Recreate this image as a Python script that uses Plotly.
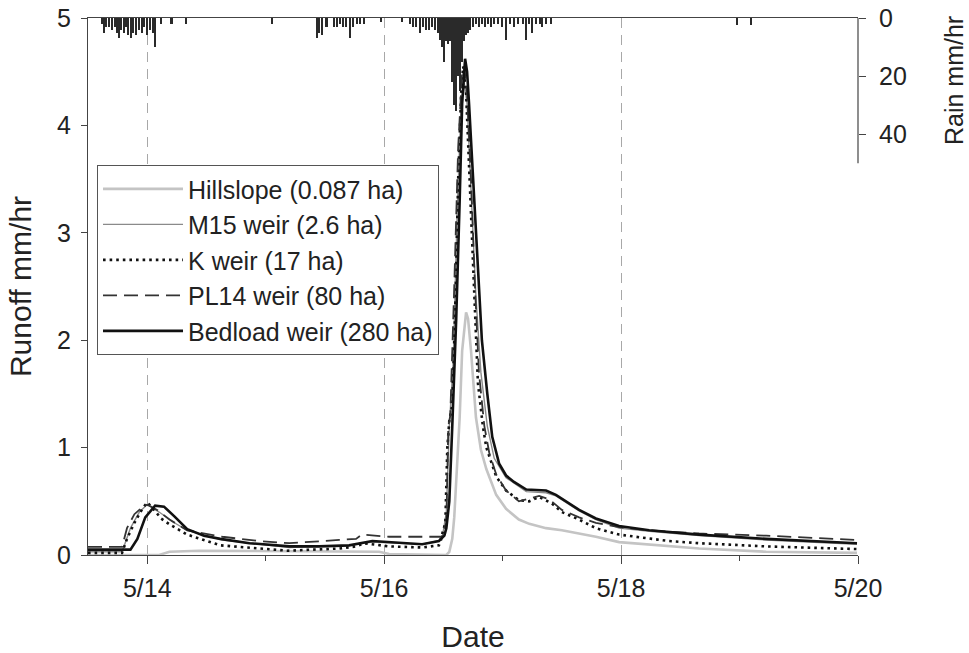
import pandas as pd
import plotly.graph_objects as go

# ---------------- data (time in hours since 5/13 00:00) ----------------
BASE = pd.Timestamp("2008-05-13")

hill_h = [12, 26.4, 28.5, 34.5, 54.8, 71, 73, 84.6, 85.2, 85.8, 86.2, 86.8, 87.3, 87.8,
          88.6, 89.0, 89.6, 90.6, 91.6, 92.7, 94.7, 96.7, 99.3, 101.4, 104.8, 108,
          111.5, 114.9, 119.6, 125.7, 135.8, 149.4, 167.8]
hill_v = [0.0, 0.0, 0.03, 0.04, 0.035, 0.03, 0.01, 0.0, 0.03, 0.15, 0.35, 0.9, 1.28, 1.9,
          2.26, 2.2, 1.9, 1.28, 0.98, 0.8, 0.56, 0.43, 0.33, 0.29, 0.25, 0.23,
          0.2, 0.17, 0.12, 0.1, 0.06, 0.03, 0.02]

m15_h = [12, 18.9, 20.6, 22.4, 24.0, 26.4, 29.5, 32.1, 39.2, 52.8, 64.9, 69.6, 79.7, 83.7,
         84.6, 85.2, 86.0, 86.8, 87.6, 88.2, 88.8, 89.6, 90.6, 91.6, 92.9, 94.3, 96.7,
         100.8, 104.8, 106.8, 111.5, 114.9, 119.6, 125.7, 135.8, 149.4, 167.8]
m15_v = [0.03, 0.03, 0.25, 0.4, 0.47, 0.4, 0.3, 0.23, 0.14, 0.07, 0.09, 0.12, 0.1, 0.14,
         0.4, 1.2, 1.8, 3.2, 4.2, 4.4, 4.2, 3.4, 2.4, 1.7, 1.2, 0.9, 0.72,
         0.59, 0.58, 0.55, 0.41, 0.33, 0.25, 0.22, 0.18, 0.14, 0.1]

k_h = [12, 18.9, 19.9, 21.4, 23.0, 24.0, 25.4, 26.8, 28.7, 32.1, 38.8, 52.4, 62.9, 66.3,
       67.9, 73.0, 79.7, 83.1, 84.4, 84.8, 85.2, 85.8, 86.4, 87.0, 87.6, 88.0, 88.6, 89.4,
       90.2, 91.0, 92.0, 92.7, 94.7, 96.7, 99.3, 101.4, 103.4, 106.0, 108.0, 111.5, 114.9,
       119.6, 129.7, 135.8, 149.4, 167.8]
k_v = [0.02, 0.02, 0.15, 0.3, 0.43, 0.49, 0.42, 0.34, 0.28, 0.19, 0.09, 0.04, 0.06, 0.08,
       0.11, 0.08, 0.07, 0.09, 0.3, 1.0, 1.25, 1.4, 2.3, 3.5, 4.3, 4.55, 4.3, 3.4,
       2.4, 1.6, 1.2, 1.0, 0.73, 0.6, 0.51, 0.5, 0.54, 0.48, 0.4, 0.33, 0.25,
       0.19, 0.13, 0.11, 0.08, 0.055]

pl14_h = [12, 18.9, 19.9, 21.4, 23.6, 24.4, 26.0, 28.5, 32.1, 39.2, 46.7, 52.8, 62.9, 66.3,
          67.5, 73.0, 83.7, 84.6, 85.0, 85.4, 86.2, 87.0, 87.8, 88.2, 88.8, 89.6, 90.4,
          91.2, 92.3, 93.3, 94.7, 96.7, 99.3, 103.4, 105.4, 108.0, 111.5, 114.9, 119.6,
          125.7, 135.8, 149.4, 167.8]
pl14_v = [0.075, 0.075, 0.25, 0.38, 0.47, 0.46, 0.42, 0.33, 0.23, 0.17, 0.13, 0.11, 0.14, 0.15,
          0.19, 0.17, 0.17, 0.3, 1.2, 1.3, 2.5, 3.8, 4.5, 4.55, 4.3, 3.5, 2.5,
          1.7, 1.2, 0.95, 0.75, 0.6, 0.5, 0.55, 0.52, 0.42, 0.35, 0.3, 0.26,
          0.23, 0.2, 0.18, 0.14]

bed_h = [12, 20.6, 22.0, 23.6, 25.6, 27.4, 29.5, 32.1, 35.5, 38.8, 44.7, 52.8, 58.8, 64.9,
         69.6, 73.0, 79.7, 83.1, 84.2, 84.6, 85.2, 85.8, 86.6, 87.3, 87.8, 88.4, 88.8, 89.2,
         90.0, 90.8, 91.8, 92.9, 93.9, 95.3, 96.7, 98.3, 100.8, 104.8, 106.8, 111.5, 114.9,
         119.6, 125.7, 135.8, 149.4, 167.8]
bed_v = [0.05, 0.05, 0.15, 0.35, 0.46, 0.45, 0.36, 0.24, 0.18, 0.15, 0.11, 0.08, 0.08, 0.09,
         0.13, 0.12, 0.1, 0.13, 0.18, 0.25, 0.5, 1.2, 2.2, 3.3, 4.2, 4.62, 4.5, 4.2,
         3.5, 2.8, 2.0, 1.5, 1.1, 0.85, 0.74, 0.68, 0.61, 0.6, 0.56, 0.42, 0.34,
         0.27, 0.23, 0.19, 0.15, 0.11]

rain_h = [14.9, 15.3, 15.7, 16.3, 16.9, 17.5, 17.9, 18.3, 18.7, 19.3, 19.75, 20.15, 20.75,
          21.15, 21.75, 22.4, 23.0, 23.4, 24.0, 24.6, 25.2, 25.6, 26.8, 28.9, 31.9, 49.3,
          58.4, 58.8, 59.4, 60.3, 61.9, 62.5, 63.1, 63.7, 64.3, 65.1, 65.7, 66.5, 67.1, 67.9,
          71.4, 75.6, 77.3, 77.9, 78.5, 79.3, 79.9, 80.5, 81.1, 81.7, 82.3, 82.9, 83.3, 83.7,
          84.2, 84.6, 85.0, 85.4, 85.8, 86.2, 86.6, 87.0, 87.4, 87.8, 88.2, 88.6, 89.0, 89.4,
          90.0, 90.6, 91.2, 91.8, 92.5, 93.1, 93.7, 94.3, 95.1, 95.9, 96.7, 97.5, 98.3, 99.1,
          100.2, 100.8, 101.4, 102.0, 102.8, 103.6, 104.0, 104.8, 105.8, 143.5, 146.3]
rain_v = [2, 5, 3, 3, 4, 3, 5, 7, 4, 5, 3, 6, 7,
          5, 6, 4, 5, 3, 6, 4, 5, 10, 2, 2, 2, 2,
          7, 5, 6, 3, 3, 3, 2, 3, 3, 7, 3, 2, 2, 2,
          1.5, 1.5, 2, 3, 3, 5, 3, 4, 4, 3, 4, 5, 7.6, 10,
          15, 8, 9, 8, 22, 30, 32, 20, 25, 15, 8, 6, 5, 4,
          3, 2, 3, 2, 3, 2, 3, 2, 2, 3, 7.6, 2, 3, 2,
          2, 7.6, 2, 5, 2, 2, 3, 2, 2, 2.5, 2.5]

tick_dates = ["2008-05-14", "2008-05-16", "2008-05-18", "2008-05-20"]
tick_text = ["5/14", "5/16", "5/18", "5/20"]
runoff_ticks = [0, 1, 2, 3, 4, 5]
rain_ticks = [0, 20, 40]

names = ["Hillslope (0.087 ha)", "M15 weir (2.6 ha)", "K weir (17 ha)",
         "PL14 weir (80 ha)", "Bedload weir (280 ha)"]


def to_time(hours):
    return BASE + pd.to_timedelta(hours, unit="h")


FS = 25

fig = go.Figure()

fig.add_trace(go.Bar(x=to_time(rain_h), y=rain_v, yaxis="y2", width=0.45 * 3600000,
                     marker=dict(color="#2a2a2a", line=dict(width=0)), showlegend=False))

series = [
    (hill_h, hill_v, dict(color="#c4c4c4", width=2.6)),
    (m15_h, m15_v, dict(color="#8a8a8a", width=1.4)),
    (k_h, k_v, dict(color="#111111", width=2.6, dash="2.6px,4px")),
    (pl14_h, pl14_v, dict(color="#333333", width=1.8, dash="14px,7px")),
    (bed_h, bed_v, dict(color="#111111", width=2.6)),
]
for (hh, vv, ln), nm in zip(series, names):
    fig.add_trace(go.Scatter(x=to_time(hh), y=vv, mode="lines", name=nm, line=ln))

fig.update_layout(
    width=969, height=653,
    margin=dict(l=88, r=111, t=18, b=98),
    paper_bgcolor="white", plot_bgcolor="white",
    font=dict(family="Liberation Sans, Arial, sans-serif", size=FS, color="#222"),
    bargap=0,
    xaxis=dict(
        type="date", range=[to_time(12), to_time(168)],
        tickmode="array", tickvals=tick_dates, ticktext=tick_text,
        ticks="outside", ticklen=8, tickcolor="#444", tickwidth=1,
        showline=True, linecolor="#444", linewidth=1.2, mirror=True,
        showgrid=True, gridcolor="#a8a8a8", gridwidth=1.2, griddash="10px,7px",
        minor=dict(tickmode="linear", tick0="2008-05-13", dtick=86400000,
                   ticks="outside", ticklen=5, tickcolor="#444"),
        title=dict(text="Date", standoff=26),
        zeroline=False, automargin=False, ticklabeloverflow="allow",
        ticklabelstandoff=3,
    ),
    yaxis=dict(
        range=[0, 5], tickvals=runoff_ticks, ticks="outside", ticklen=6,
        tickcolor="#444", showline=True, linecolor="#444", linewidth=1.2,
        showgrid=False, zeroline=False, automargin=False, ticklabeloverflow="allow",
        ticklabelstandoff=5,
        title=dict(text="Runoff mm/hr", standoff=16),
    ),
    yaxis2=dict(
        overlaying="y", side="right", range=[185, 0], tickvals=rain_ticks,
        ticks="outside", ticklen=7, tickcolor="#444", showline=False,
        showgrid=False, zeroline=False, automargin=False, ticklabeloverflow="allow",
        ticklabelstandoff=8,
    ),
    legend=dict(
        x=0.0117, y=0.726, xanchor="left", yanchor="top",
        bordercolor="#555", borderwidth=1, bgcolor="white",
        font=dict(size=FS), tracegroupgap=0, itemwidth=80,
    ),
    shapes=[dict(type="line", xref="paper", yref="y2", x0=1, x1=1, y0=0, y1=50,
                 line=dict(color="#444", width=1.2))],
    annotations=[dict(text="Rain mm/hr", xref="paper", yref="paper", x=1.1247, y=0.8827,
                      xanchor="center", yanchor="middle",
                      textangle=-90, showarrow=False, font=dict(size=FS))],
)

fig.write_html(
    "out.html",
    config={"displayModeBar": False},
    post_script="document.body.style.margin='0';"
                "document.documentElement.style.overflow='hidden';",
)
